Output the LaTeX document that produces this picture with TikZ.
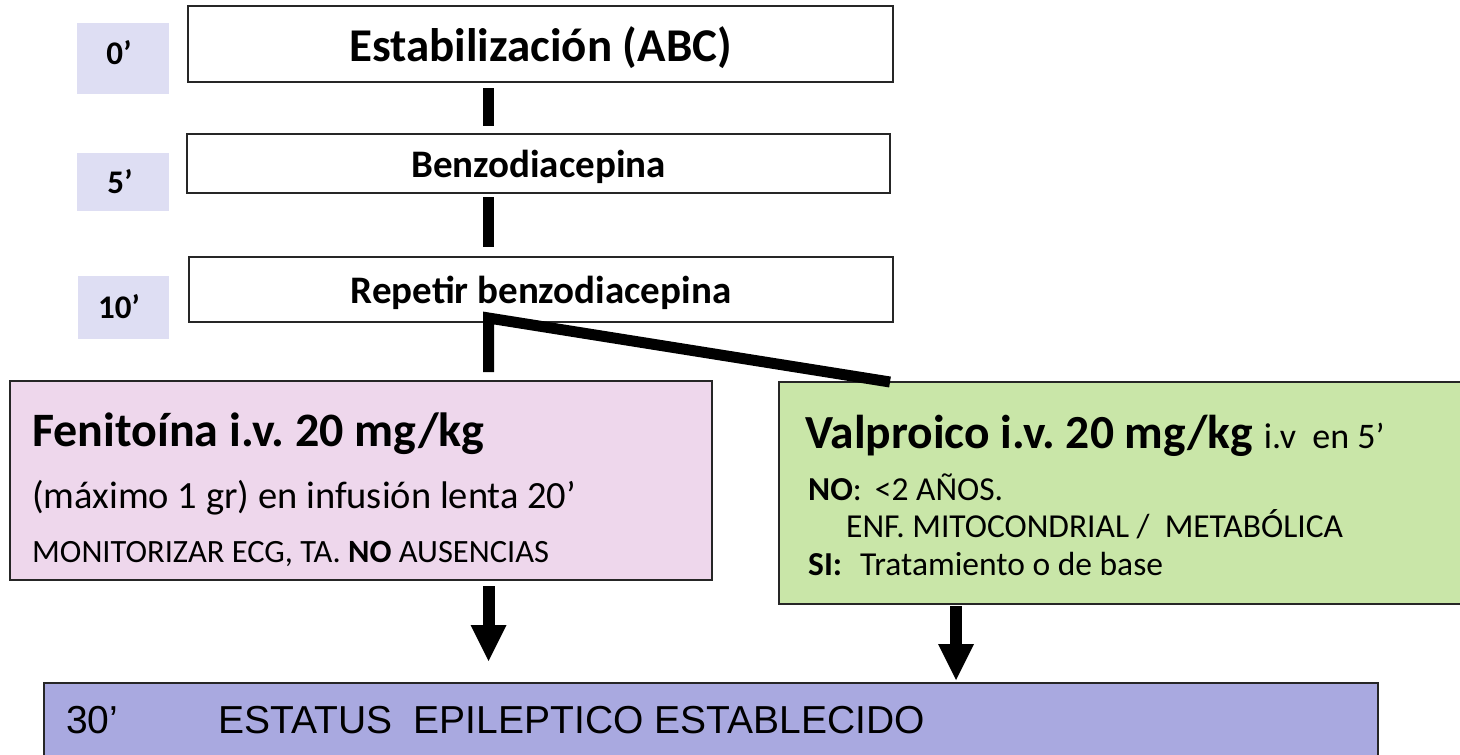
\documentclass[tikz,border=0pt]{standalone}
\usepackage{fontspec}
\setmainfont{Carlito}
\newfontfamily\arialf{Liberation Sans}
\usetikzlibrary{arrows.meta,calc}
\frenchspacing
\definecolor{timefill}{RGB}{222,222,243}
\definecolor{fenfill}{RGB}{238,215,236}
\definecolor{valfill}{RGB}{201,230,168}
\definecolor{botfill}{RGB}{169,169,224}
\newcommand{\fsz}[1]{\fontsize{#1}{#1}\selectfont}
\tikzset{
  box/.style={draw=black!85,line width=1.6pt,inner sep=0pt,outer sep=0pt,rectangle},
  timebox/.style={fill=timefill,inner sep=0pt,outer sep=0pt,rectangle},
  timetxt/.style={inner sep=0pt,font=\fsz{33}\bfseries},
  lefttxt/.style={inner sep=0pt,anchor=base west},
  bar/.style={line width=11pt,line cap=butt,line join=miter},
  arr/.style={line width=12pt,-{Triangle[width=36pt,length=36pt,line width=0pt]}}
}
\begin{document}
\begin{tikzpicture}[x=1pt,y=-1pt]
\useasboundingbox (0,0) rectangle (1460,755);
% time boxes
\node[timebox,minimum width=92pt,minimum height=71pt] (t0) at (123,58.5) {};
\node[timebox,minimum width=92pt,minimum height=58pt] (t5) at (123,182) {};
\node[timebox,minimum width=91pt,minimum height=63pt] (t10) at (123.5,307.5) {};
\node[timetxt] (l0) at (119,53) {0’};
\node[timetxt] (l5) at (120,182) {5’};
\node[timetxt] (l10) at (119,307) {10’};
% main steps
\node[box,text depth=0pt,minimum width=705pt,minimum height=76pt,font=\fsz{47}\bfseries] (est) at (540.5,44) {Estabilización (ABC)};
\node[box,text depth=0pt,minimum width=703pt,minimum height=59pt,font=\fsz{39}\bfseries] (benz) at (538.5,163.5) {Benzodiacepina};
\node[box,text depth=0pt,minimum width=704pt,minimum height=65pt,font=\fsz{39}\bfseries] (rep) at (541,289.5) {Repetir benzodiacepina};
% treatment boxes
\node[box,fill=fenfill,minimum width=702pt,minimum height=199pt] (fen) at (361,480.5) {};
\node[box,fill=valfill,minimum width=686pt,minimum height=222pt] (val) at (1122,493) {};
\node[box,fill=botfill,minimum width=1334pt,minimum height=82pt] (bot) at (711,724) {};
% fenitoina text
\node[lefttxt,font=\fsz{48}\bfseries] (f1) at (32,446) {Fenitoína i.v. 20 mg/kg};
\node[lefttxt,font=\fsz{38.5}] (f2) at (32,508) {(máximo 1 gr) en infusión lenta 20’};
\node[lefttxt,font=\fsz{32.5}] (f3) at (32,562) {MONITORIZAR ECG, TA. \textbf{NO} AUSENCIAS};
% valproico text
\node[lefttxt,font=\fsz{47.5}] (v1) at (805,448) {\textbf{Valproico i.v. 20 mg/kg} {\fsz{36}i.v\ \ en 5’}};
\node[lefttxt,font=\fsz{33.5}] (v2) at (808,500) {\textbf{NO}:\hspace{13pt}<2 AÑOS.};
\node[lefttxt,font=\fsz{33.5}] (v3) at (846,537) {ENF. MITOCONDRIAL /\ \ METABÓLICA};
\node[lefttxt,font=\fsz{33.5}] (v4) at (808,575) {\textbf{SI:}\hspace{18pt}Tratamiento o de base};
% bottom text
\node[lefttxt,font=\arialf\fsz{39}] (b1) at (66,733) {30’};
\node[lefttxt,font=\arialf\fsz{39}] (b2) at (218,733) {ESTATUS\ \ EPILEPTICO ESTABLECIDO};
% connectors
\coordinate (cx) at (488.5,0);
\coordinate (cx2) at (956,0);
\draw[bar,shorten <=6pt,shorten >=8pt] (est.south -| cx) -- (benz.north -| cx);
\draw[bar,shorten <=4pt,shorten >=10pt] (benz.south -| cx) -- (rep.north -| cx);
\draw[bar] ($(fen.north -| cx)+(0,-9)$) -- ($(rep.south -| cx)+(0,-4)$) -- ($(val.north west)+(111,0)$);
\draw[arr,shorten <=6pt,shorten >=22pt] (fen.south -| cx) -- (bot.north -| cx);
\draw[arr,shorten <=2pt,shorten >=3pt] (val.south -| cx2) -- (bot.north -| cx2);
\end{tikzpicture}
\end{document}
